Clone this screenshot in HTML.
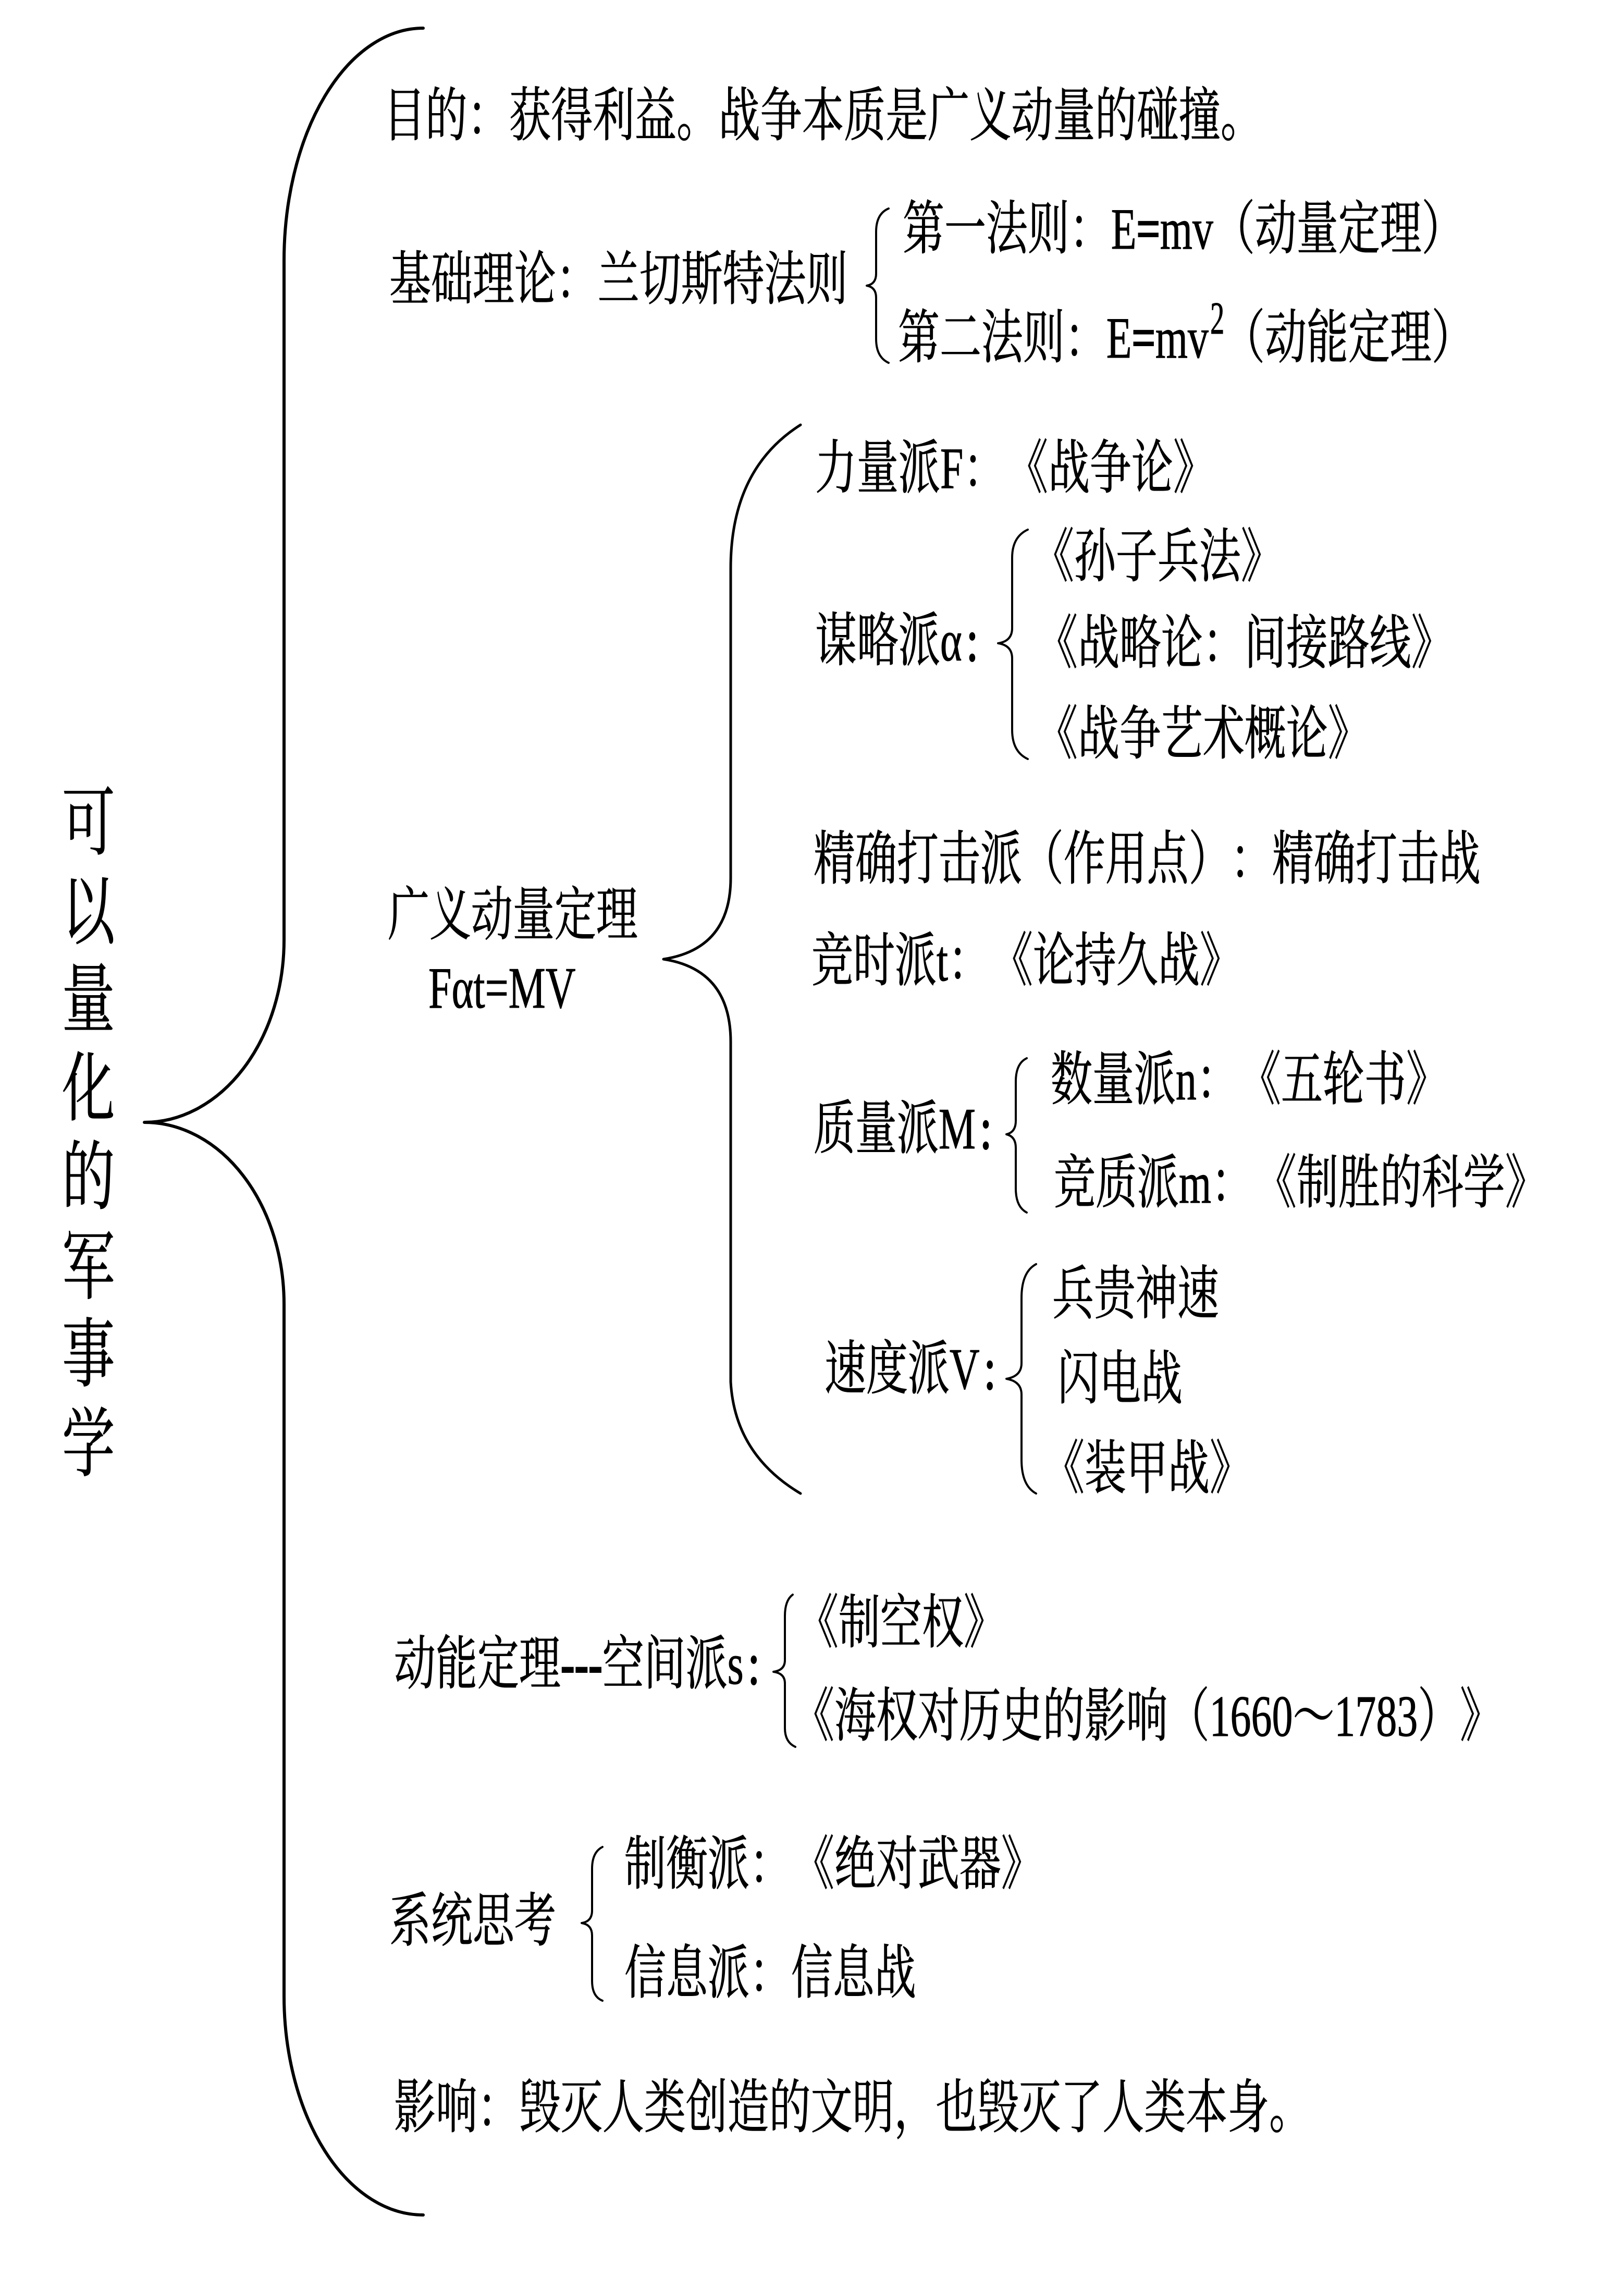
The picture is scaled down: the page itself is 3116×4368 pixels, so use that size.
<!DOCTYPE html>
<html lang="zh-CN"><head><meta charset="utf-8"><title>可以量化的军事学</title>
<style>
html,body{margin:0;padding:0;background:#fff;width:3116px;height:4368px;overflow:hidden}
svg{display:block}
text{font-family:"Liberation Serif","Noto Serif CJK SC",serif;font-size:112px;fill:#000;stroke:#000;stroke-width:1px;white-space:pre}
.t text{font-size:145px}
.b{stroke-width:3px}
path{fill:none;stroke:#000;stroke-linecap:round;stroke-linejoin:round}
</style></head><body>
<svg xmlns="http://www.w3.org/2000/svg" width="3116" height="4368" viewBox="0 0 3116 4368">
<rect width="3116" height="4368" fill="#fff"/>
<path stroke-width="6" d="M812 54A267 446 0 0 0 545 500L545 1803A268 350 0 0 1 277 2153A268 349 0 0 1 545 2502L545 3829A267 420 0 0 0 812 4249"/>
<path stroke-width="5" d="M1536 815Q1402 900 1402 1090L1402 1684Q1402 1820 1273 1840Q1402 1860 1402 1999L1402 2651Q1410 2790 1536 2865"/>
<path stroke-width="4" d="M1705 400Q1681 410 1681 445L1681 525Q1681 545 1663 548Q1681 551 1681 571L1681 650Q1681 685 1705 696"/>
<path stroke-width="4" d="M1972 1016Q1942 1030 1942 1070L1942 1205Q1942 1230 1915 1234Q1942 1238 1942 1263L1942 1400Q1942 1442 1972 1456"/>
<path stroke-width="4" d="M1970 2030Q1949 2040 1949 2075L1949 2150Q1949 2172 1931 2176Q1949 2180 1949 2202L1949 2280Q1949 2315 1970 2326"/>
<path stroke-width="4" d="M1988 2425Q1960 2440 1960 2490L1960 2615Q1960 2640 1931 2645Q1960 2650 1960 2675L1960 2800Q1960 2850 1988 2865"/>
<path stroke-width="4" d="M1521 3059Q1506 3070 1506 3100L1506 3185Q1506 3204 1484 3207Q1506 3210 1506 3229L1506 3315Q1506 3342 1526 3351"/>
<path stroke-width="4" d="M1156 3543Q1136 3553 1136 3585L1136 3665Q1136 3686 1116 3689Q1136 3692 1136 3713L1136 3800Q1136 3830 1156 3838"/>

<g class="t">
<text transform="translate(119,1628) scale(.7,1)">可</text>
<text transform="translate(119,1799) scale(.7,1)">以</text>
<text transform="translate(119,1967) scale(.7,1)">量</text>
<text transform="translate(119,2138) scale(.7,1)">化</text>
<text transform="translate(119,2308) scale(.7,1)">的</text>
<text transform="translate(119,2480) scale(.7,1)">军</text>
<text transform="translate(119,2648) scale(.7,1)">事</text>
<text transform="translate(119,2820) scale(.7,1)">学</text>
</g>

<text transform="translate(736,260) scale(.717,1)">目的&#xFF1A;获得利益。战争本质是广义动量的碰撞。</text>
<text transform="translate(747,574) scale(.714,1)">基础理论&#xFF1A;兰切斯特法则</text>
<text transform="translate(1732,477) scale(.714,1)">第一法则&#xFF1A;E<tspan class="b">=</tspan>mv&#xFF08;动量定理&#xFF09;</text>
<text transform="translate(1723,686) scale(.714,1)">第二法则&#xFF1A;E<tspan class="b">=</tspan>mv</text>
<text transform="translate(2322,640) scale(.62,1)" style="font-size:88px">2</text>
<text transform="translate(2347,686) scale(.714,1)">&#xFF08;动能定理&#xFF09;</text>

<text transform="translate(1564,936) scale(.714,1)">力量派F&#xFF1A;</text>
<text transform="translate(1931,936) scale(.714,1)">《战争论》</text>
<text transform="translate(1564,1267) scale(.714,1)">谋略派α<tspan dx="12" class="b">:</tspan></text>
<text transform="translate(1981,1106) scale(.714,1)">《孙子兵法》</text>
<text transform="translate(1988,1272) scale(.714,1)">《战略论&#xFF1A;间接路线》</text>
<text transform="translate(1988,1446) scale(.714,1)">《战争艺术概论》</text>
<text transform="translate(1561,1686) scale(.714,1)">精确打击派&#xFF08;作用点&#xFF09;</text>
<text transform="translate(2361,1686) scale(.714,1)">&#xFF1A;精确打击战</text>
<text transform="translate(1557,1881) scale(.714,1)">竞时派t&#xFF1A;</text>
<text transform="translate(1902,1881) scale(.714,1)">《论持久战》</text>
<text transform="translate(1561,2203) scale(.714,1)">质量派M<tspan dx="12" class="b">:</tspan></text>
<text transform="translate(2016,2109) scale(.714,1)">数量派n&#xFF1A;</text>
<text transform="translate(2378,2109) scale(.714,1)">《五轮书》</text>
<text transform="translate(2022,2307) scale(.714,1)">竞质派m&#xFF1A;</text>
<text transform="translate(2408,2307) scale(.714,1)">《制胜的科学》</text>
<text transform="translate(1582,2664) scale(.714,1)">速度派V<tspan dx="12" class="b">:</tspan></text>
<text transform="translate(2019,2520) scale(.714,1)">兵贵神速</text>
<text transform="translate(2029,2683) scale(.714,1)">闪电战</text>
<text transform="translate(2001,2855) scale(.714,1)">《装甲战》</text>

<text transform="translate(744,1793) scale(.714,1)">广义动量定理</text>
<text transform="translate(822,1933) scale(.714,1)">Fαt=MV</text>

<text transform="translate(756,3230) scale(.714,1)">动能定理<tspan class="b">---</tspan>空间派s<tspan dx="12" class="b">:</tspan></text>
<text transform="translate(1529,3151) scale(.714,1)">《制空权》</text>
<text transform="translate(1521,3330) scale(.714,1)">《海权对历史的影响&#xFF08;1660&#xFF5E;1783&#xFF09;</text>
<text transform="translate(2801,3330) scale(.714,1)">》</text>
<text transform="translate(747,3723) scale(.714,1)">系统思考</text>
<text transform="translate(1198,3614) scale(.714,1)">制衡派&#xFF1A;</text>
<text transform="translate(1521,3614) scale(.714,1)">《绝对武器》</text>
<text transform="translate(1198,3823) scale(.714,1)">信息派&#xFF1A;信息战</text>
<text transform="translate(756,4081) scale(.714,1)">影响&#xFF1A;毁灭人类创造的文明&#xFF0C;也毁灭了人类本身。</text>
</svg>
</body></html>
